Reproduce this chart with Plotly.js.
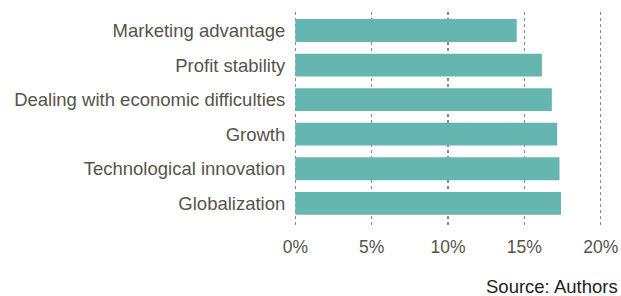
<!DOCTYPE html>
<html>
<head>
<meta charset="utf-8">
<script src="https://cdn.plot.ly/plotly-3.0.1.min.js"></script>
<style>html,body{margin:0;padding:0;background:#fff}#chart{width:621px;height:296px}</style>
</head>
<body>
<div id="chart"></div>
<script>
const categories = ["Marketing advantage", "Profit stability", "Dealing with economic difficulties", "Growth", "Technological innovation", "Globalization"];
const values = [14.5, 16.15, 16.8, 17.15, 17.3, 17.4];
const tickValues = [0, 5, 10, 15, 20];
const tickLabels = ["0%", "5%", "10%", "15%", "20%"];
const source = "Source: Authors";

const textColor = "#57534a";
const trace = {
  type: "bar",
  orientation: "h",
  y: categories,
  x: values,
  marker: {color: "#65b6b0"},
  width: 0.66,
  hoverinfo: "none"
};
const layout = {
  width: 621, height: 296,
  margin: {l: 293, r: 18, t: 12, b: 70},
  paper_bgcolor: "#fff", plot_bgcolor: "#fff",
  showlegend: false,
  font: {family: "Liberation Sans, Arial, sans-serif", size: 18.5, color: textColor},
  xaxis: {
    range: [-0.15, 20.15],
    tickvals: tickValues,
    ticktext: tickLabels,
    showgrid: true, gridcolor: "#8a8a8a", gridwidth: 1.3, griddash: "dot",
    zeroline: false, showline: false,
    ticks: "outside", ticklen: 5, tickcolor: "rgba(0,0,0,0)",
    tickfont: {size: 17.5, color: textColor},
    fixedrange: true
  },
  yaxis: {
    type: "category",
    range: [5.657, -0.535],
    showgrid: false, zeroline: false, showline: false,
    ticks: "outside", ticklen: 3, tickcolor: "rgba(0,0,0,0)",
    tickfont: {size: 18.5, color: textColor},
    fixedrange: true
  },
  annotations: [{
    text: source, xref: "paper", yref: "paper",
    x: 1.054, y: -0.285, xanchor: "right", yanchor: "middle",
    showarrow: false, font: {size: 18.5, color: "#222"}
  }]
};
Plotly.newPlot("chart", [trace], layout, {displayModeBar: false, staticPlot: true});
</script>
</body>
</html>
